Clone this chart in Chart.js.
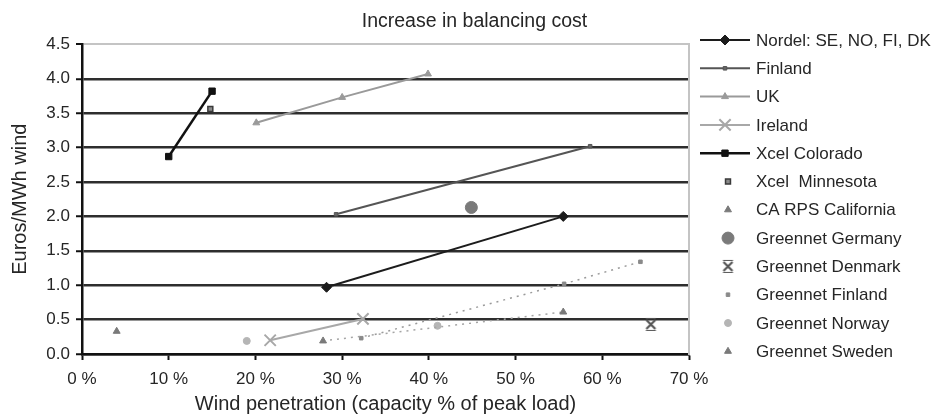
<!DOCTYPE html>
<html>
<head>
<meta charset="utf-8">
<title>Increase in balancing cost</title>
<script src="https://cdn.jsdelivr.net/npm/chart.js@4.4.1/dist/chart.umd.min.js"></script>
<style>
  html, body { margin: 0; padding: 0; background: #ffffff; }
  #wrap { width: 939px; height: 416px; }
</style>
</head>
<body>
<div id="wrap"><canvas id="chart" width="939" height="416"></canvas></div>
<script>
// Wind penetration (% of peak load) vs. balancing cost (EUR/MWh wind)
const seriesNames = [
  'Nordel: SE, NO, FI, DK', 'Finland', 'UK', 'Ireland', 'Xcel Colorado',
  'Xcel  Minnesota', 'CA RPS California', 'Greennet Germany', 'Greennet Denmark',
  'Greennet Finland', 'Greennet Norway', 'Greennet Sweden'
];

const nordelPen = [28.2, 55.5];            const nordelCost = [0.97, 2.0];
const finlandPen = [29.3, 58.6];           const finlandCost = [2.03, 3.02];
const ukPen = [20.1, 30.0, 39.9];          const ukCost = [3.36, 3.73, 4.07];
const irelandPen = [21.7, 32.4];           const irelandCost = [0.2, 0.51];
const xcelColoradoPen = [10.0, 15.0];      const xcelColoradoCost = [2.87, 3.82];
const xcelMinnesotaPen = [14.8];           const xcelMinnesotaCost = [3.56];
const caRpsPen = [4.0];                    const caRpsCost = [0.33];
const greennetGermanyPen = [44.9];         const greennetGermanyCost = [2.13];
const greennetDenmarkPen = [65.6];         const greennetDenmarkCost = [0.43];
const greennetFinlandPen = [32.2, 55.6, 64.4]; const greennetFinlandCost = [0.23, 1.02, 1.34];
const greennetNorwayPen = [19.0, 41.0];    const greennetNorwayCost = [0.19, 0.41];
const greennetSwedenPen = [27.8, 55.5];    const greennetSwedenCost = [0.19, 0.61];

const xTicks = [0, 10, 20, 30, 40, 50, 60, 70];
const yTicks = [0, 0.5, 1.0, 1.5, 2.0, 2.5, 3.0, 3.5, 4.0, 4.5];

const pairs = (xs, ys) => xs.map((x, i) => ({ x: x, y: ys[i] }));

// "X" marker with thin bars above and below, used for Greennet Denmark
function barredCross(size, color) {
  const c = document.createElement('canvas');
  c.width = size; c.height = size;
  const g = c.getContext('2d');
  g.strokeStyle = color;
  g.lineWidth = 2.2;
  const m = 3, e = size - 3;
  g.beginPath();
  g.moveTo(m, m); g.lineTo(e, e);
  g.moveTo(e, m); g.lineTo(m, e);
  g.stroke();
  g.lineWidth = 1.2;
  g.beginPath();
  g.moveTo(m - 0.5, 1.5); g.lineTo(e + 0.5, 1.5);
  g.moveTo(m - 0.5, size - 1.5); g.lineTo(e + 0.5, size - 1.5);
  g.stroke();
  return c;
}
const denmarkMark = barredCross(15, '#555555');

// appearance of each series: line colour/width/dash, marker style
const looks = [
  { line: '#1c1c1c', width: 2,   dash: [],     marker: 'rectRot',  r: 5,   fill: '#1c1c1c', stroke: '#1c1c1c', showLine: true,  legendLine: true },
  { line: '#555555', width: 2,   dash: [],     marker: 'rect',     r: 2.5, fill: '#666666', stroke: '#555555', showLine: true,  legendLine: true },
  { line: '#9a9a9a', width: 2,   dash: [],     marker: 'triangle', r: 4,   fill: '#9a9a9a', stroke: '#9a9a9a', showLine: true,  legendLine: true },
  { line: '#a8a8a8', width: 2,   dash: [],     marker: 'crossRot', r: 8,   fill: '#a8a8a8', stroke: '#a8a8a8', showLine: true,  legendLine: true, bw: 2 },
  { line: '#111111', width: 2.5, dash: [],     marker: 'rect',     r: 4.5, fill: '#111111', stroke: '#111111', showLine: true,  legendLine: true },
  { line: '#444444', width: 0,   dash: [],     marker: 'rect',     r: 3.5, fill: '#8a8a8a', stroke: '#3a3a3a', showLine: false, bw: 1.5 },
  { line: '#7a7a7a', width: 0,   dash: [],     marker: 'triangle', r: 4,   fill: '#7a7a7a', stroke: '#7a7a7a', showLine: false },
  { line: '#7a7a7a', width: 0,   dash: [],     marker: 'circle',   r: 6,   fill: '#7a7a7a', stroke: '#7a7a7a', showLine: false },
  { line: '#555555', width: 0,   dash: [],     marker: denmarkMark, r: 7,  fill: '#555555', stroke: '#555555', showLine: false },
  { line: '#9a9a9a', width: 1.5, dash: [2, 5], marker: 'rect',     r: 2.5, fill: '#8a8a8a', stroke: '#8a8a8a', showLine: true },
  { line: '#b5b5b5', width: 0,   dash: [],     marker: 'circle',   r: 3.5, fill: '#b5b5b5', stroke: '#b5b5b5', showLine: false },
  { line: '#a5a5a5', width: 1.5, dash: [2, 5], marker: 'triangle', r: 4,   fill: '#7a7a7a', stroke: '#7a7a7a', showLine: true }
];

const seriesData = [
  pairs(nordelPen, nordelCost),
  pairs(finlandPen, finlandCost),
  pairs(ukPen, ukCost),
  pairs(irelandPen, irelandCost),
  pairs(xcelColoradoPen, xcelColoradoCost),
  pairs(xcelMinnesotaPen, xcelMinnesotaCost),
  pairs(caRpsPen, caRpsCost),
  pairs(greennetGermanyPen, greennetGermanyCost),
  pairs(greennetDenmarkPen, greennetDenmarkCost),
  pairs(greennetFinlandPen, greennetFinlandCost),
  pairs(greennetNorwayPen, greennetNorwayCost),
  pairs(greennetSwedenPen, greennetSwedenCost)
];

const datasets = seriesNames.map((name, i) => {
  const s = looks[i];
  return {
    label: name,
    data: seriesData[i],
    showLine: s.showLine,
    borderColor: s.line,
    borderWidth: s.width,
    borderDash: s.dash,
    pointStyle: s.marker,
    pointRadius: s.r,
    pointHoverRadius: s.r,
    pointBackgroundColor: s.fill,
    pointBorderColor: s.stroke,
    pointBorderWidth: s.bw || 1,
    tension: 0,
    order: 12 - i
  };
});

const textColor = '#262626';
const baseFont = "'Liberation Sans', Arial, sans-serif";

// legend at the right: line sample with marker, then the series name
const sideLegend = {
  id: 'sideLegend',
  afterDraw(chart) {
    const ctx = chart.ctx;
    const top = 40, step = 28.3;
    ctx.save();
    chart.data.datasets.forEach((ds, i) => {
      const s = looks[i];
      const y = top + i * step;
      if (s.legendLine) {
        ctx.save();
        ctx.strokeStyle = ds.borderColor;
        ctx.lineWidth = ds.borderWidth;
        ctx.setLineDash(ds.borderDash || []);
        ctx.beginPath();
        ctx.moveTo(700, y);
        ctx.lineTo(750, y);
        ctx.stroke();
        ctx.restore();
      }
      ctx.save();
      ctx.fillStyle = ds.pointBackgroundColor;
      ctx.strokeStyle = ds.pointBorderColor;
      ctx.lineWidth = ds.pointBorderWidth;
      Chart.helpers.drawPoint(ctx, {
        pointStyle: ds.pointStyle,
        radius: ds.pointRadius,
        rotation: 0,
        borderWidth: ds.pointBorderWidth
      }, s.legendLine ? 725 : 728, y);
      ctx.restore();
      ctx.fillStyle = textColor;
      ctx.font = '17px ' + baseFont;
      ctx.textAlign = 'left';
      ctx.textBaseline = 'middle';
      ctx.fillText(ds.label, 756, y + 1);
    });
    ctx.restore();
  }
};

new Chart(document.getElementById('chart'), {
  type: 'scatter',
  data: { datasets: datasets },
  plugins: [sideLegend],
  options: {
    responsive: false,
    animation: false,
    layout: { padding: { left: 10, right: 0, top: 0, bottom: 0 } },
    plugins: {
      legend: { display: false },
      tooltip: { enabled: false },
      title: {
        display: true,
        text: 'Increase in balancing cost',
        color: textColor,
        font: { family: baseFont, size: 19.5, weight: 'normal', lineHeight: 1.2 },
        padding: { top: 10, bottom: 11 }
      }
    },
    scales: {
      x: {
        type: 'linear',
        min: xTicks[0],
        max: xTicks[xTicks.length - 1],
        afterBuildTicks: (scale) => { scale.ticks = xTicks.map(v => ({ value: v })); },
        afterFit: (scale) => { scale.height = 62; },
        ticks: {
          color: textColor,
          font: { family: baseFont, size: 17 },
          padding: 9,
          maxRotation: 0,
          callback: (v) => v + ' %'
        },
        grid: {
          drawOnChartArea: false,
          drawTicks: true,
          tickLength: 6,
          tickColor: '#111111',
          tickWidth: 2
        },
        border: { display: true, color: '#111111', width: 2.5 },
        title: {
          display: true,
          text: 'Wind penetration (capacity % of peak load)',
          color: textColor,
          font: { family: baseFont, size: 20, lineHeight: 1.2 },
          padding: { top: 0, bottom: 0 }
        }
      },
      y: {
        type: 'linear',
        min: yTicks[0],
        max: yTicks[yTicks.length - 1],
        afterBuildTicks: (scale) => { scale.ticks = yTicks.map(v => ({ value: v })); },
        afterFit: (scale) => { scale.width = 72; },
        ticks: {
          color: textColor,
          font: { family: baseFont, size: 17 },
          padding: 6,
          callback: (v) => Number(v).toFixed(1)
        },
        grid: {
          color: (c) => (c.tick && c.tick.value === yTicks[yTicks.length - 1]) ? '#c4c4c4' : '#2e2e2e',
          lineWidth: (c) => (c.tick && c.tick.value === yTicks[yTicks.length - 1]) ? 2 : 2.5,
          drawTicks: true,
          tickLength: 6,
          tickColor: '#111111',
          tickWidth: 2
        },
        border: { display: true, color: '#111111', width: 2.5 },
        title: {
          display: true,
          text: 'Euros/MWh wind',
          color: textColor,
          font: { family: baseFont, size: 20, lineHeight: 1 },
          padding: { top: 0, bottom: 0 }
        }
      },
      yRight: {
        type: 'linear',
        position: 'right',
        min: yTicks[0],
        max: yTicks[yTicks.length - 1],
        afterFit: (scale) => { scale.width = 250; },
        ticks: { display: false },
        grid: { display: false, drawTicks: false },
        border: { display: true, color: '#c4c4c4', width: 2 }
      }
    }
  }
});
</script>
</body>
</html>
